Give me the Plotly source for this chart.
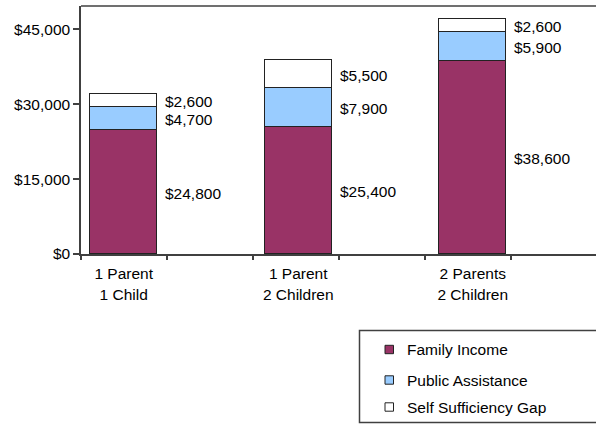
import plotly.graph_objects as go

# ---- data ----
categories = ["1 Parent<br>1 Child", "1 Parent<br>2 Children", "2 Parents<br>2 Children"]
family_income = [24800, 25400, 38600]
public_assistance = [4700, 7900, 5900]
self_sufficiency_gap = [2600, 5500, 2600]
series_names = ["Family Income", "Public Assistance", "Self Sufficiency Gap"]
y_ticks = [0, 15000, 30000, 45000]

# ---- styles ----
colors = ["#993366", "#99CCFF", "#FFFFFF"]
outline = "#222222"
axis_col = "#404040"
FONT = "Arial, Liberation Sans, sans-serif"
FS = 15.5

W, H = 596, 425
ML, MR, MT, MB = 81, 0, 6, 171
PW, PH = W - ML - MR, H - MT - MB

def px(x):
    return (x - ML) / PW

def py(y):
    return (H - MB - y) / PH

xpos = [2 * i for i in range(len(categories))]
bar_w = 0.77

fig = go.Figure()
series = [family_income, public_assistance, self_sufficiency_gap]
for name, vals, col in zip(series_names, series, colors):
    fig.add_trace(go.Bar(
        x=xpos, y=vals, name=name, width=bar_w,
        marker=dict(color=col, line=dict(color=outline, width=1)),
        showlegend=False, hoverinfo="skip",
    ))

# invisible trace for the tick-mark axis
fig.add_trace(go.Scatter(x=[0], y=[0], xaxis="x2", mode="markers",
                         marker=dict(opacity=0), showlegend=False, hoverinfo="skip"))

# value labels to the right of each segment
for i, x in enumerate(xpos):
    base = 0
    for vals in series:
        v = vals[i]
        mid = base + v / 2
        fig.add_annotation(x=x + bar_w / 2, y=mid, xref="x", yref="y",
                           text="${:,}".format(v), showarrow=False,
                           xanchor="left", yanchor="middle", xshift=6, yshift=-1,
                           font=dict(family=FONT, size=FS, color="#000"))
        base += v

# top frame line
fig.add_shape(type="line", xref="paper", yref="paper", x0=0, x1=1.02, y0=1, y1=1,
              line=dict(color=axis_col, width=1.5))

# manual legend (box runs off the right edge)
fig.add_shape(type="rect", xref="paper", yref="paper",
              x0=px(359.5), x1=px(640), y0=py(422.5), y1=py(330.5),
              line=dict(color=axis_col, width=1.5), fillcolor="rgba(0,0,0,0)")
leg_y = [349.5, 380, 407]
for name, col, ly in zip(series_names, colors, leg_y):
    fig.add_shape(type="rect", xref="paper", yref="paper",
                  x0=px(385), x1=px(393.5), y0=py(ly + 4.2), y1=py(ly - 4.2),
                  line=dict(color=outline, width=1), fillcolor=col)
    fig.add_annotation(x=px(405), y=py(ly), xref="paper", yref="paper",
                       text=name, showarrow=False, xanchor="left", yanchor="middle",
                       font=dict(family=FONT, size=FS, color="#000"))

fig.update_layout(
    width=W, height=H,
    margin=dict(l=ML, r=MR, t=MT, b=MB, pad=0),
    paper_bgcolor="white", plot_bgcolor="white",
    barmode="stack", bargap=0,
    font=dict(family=FONT, size=FS, color="#000"),
    xaxis=dict(
        range=[-0.489, 5.412], tickvals=xpos, ticktext=categories,
        ticks="", showline=True, linecolor=axis_col, linewidth=1.5,
        showgrid=False, zeroline=False, ticklabelstandoff=5,
        tickfont=dict(family=FONT, size=FS, color="#000"),
    ),
    xaxis2=dict(
        overlaying="x", anchor="y", side="bottom",
        range=[-0.5, 5.49], tick0=-0.5, dtick=1, tickmode="linear",
        ticks="outside", ticklen=5, tickcolor=axis_col, tickwidth=1.5,
        showticklabels=False, showline=False, showgrid=False, zeroline=False,
    ),
    yaxis=dict(
        range=[0, 49670], tickvals=y_ticks,
        ticktext=["${:,}".format(v) for v in y_ticks],
        ticks="outside", ticklen=6, tickcolor=axis_col, tickwidth=1.5,
        showline=True, linecolor=axis_col, linewidth=1.5,
        showgrid=False, zeroline=False, ticklabelstandoff=0,
        tickfont=dict(family=FONT, size=FS, color="#000"),
    ),
)

fig.write_html("out.html",
               config={"displayModeBar": False},
               post_script="document.body.style.margin='0';document.body.style.overflow='hidden';")
